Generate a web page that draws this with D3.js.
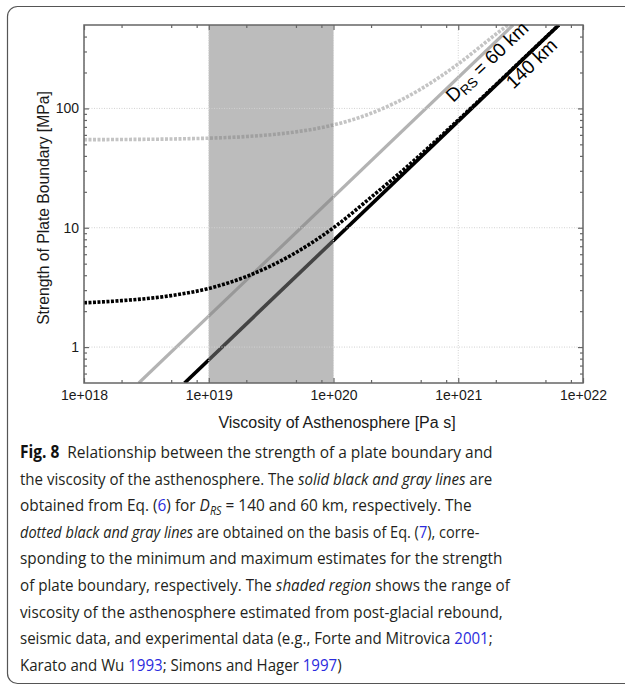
<!DOCTYPE html>
<html>
<head>
<meta charset="utf-8">
<script src="https://cdn.jsdelivr.net/npm/d3@7"></script>
<style>
  html, body { margin: 0; padding: 0; background: #fff; }
  svg { display: block; }
</style>
</head>
<body>
<svg id="canvas"></svg>
<script>
// axis ticks
let xTicks = [1e18, 1e19, 1e20, 1e21, 1e22];
let xTickLabels = ['1e+018', '1e+019', '1e+020', '1e+021', '1e+022'];
let xMinorTicks = [2e18, 5e18, 8e18, 2e19, 5e19, 8e19, 2e20, 5e20, 8e20, 2e21, 5e21, 8e21];
let yTicks = [1, 10, 100];
let yTickLabels = ['1', '10', '100'];
let yMinorTicks = [0.6, 0.7, 0.8, 0.9, 2, 3, 4, 5, 6, 7, 8, 9, 20, 30, 40, 50, 60, 70, 80, 90, 200, 300, 400];

// shaded viscosity range
let shadedRange = [1e19, 1e20];

// solid lines (straight in log-log)
let solid140Viscosity = [6.4e18, 6.4e21];
let solid140Strength = [0.5, 500];
let solid60Viscosity = [2.75e18, 2.75e21];
let solid60Strength = [0.5, 500];

// dotted lines
let dottedBlackViscosity = [1e18, 2e18, 5e18, 1e19, 2e19, 5e19, 1e20, 2e20, 5e20, 1e21, 2e21, 5e21, 6.4e21];
let dottedBlackStrength = [2.35, 2.45, 2.7, 3.1, 3.9, 6.2, 10, 18, 41, 80, 158, 392, 500];
let dottedGrayViscosity = [1e18, 2e18, 5e18, 1e19, 2e19, 5e19, 1e20, 2e20, 5e20, 1e21, 2e21, 2.5e21];
let dottedGrayStrength = [54.7, 54.9, 55.4, 56.3, 58.1, 63.6, 72.7, 91, 145, 236, 418, 500];

// line labels: [viscosity, strength] of baseline start
let label60Pos = [9.1e20, 111];
let label140Pos = [2.77e21, 143];

let captionLines = [
  [['Fig. 8', 'b'], ['  Relationship between the strength of a plate boundary and', '']],
  [['the viscosity of the asthenosphere. The ', ''], ['solid black and gray lines', 'i'], [' are', '']],
  [['obtained from Eq. (', ''], ['6', 'l'], [') for ', ''], ['D', 'i'], ['RS', 'sub'], [' = 140 and 60 km, respectively. The', '']],
  [['dotted black and gray lines', 'i'], [' are obtained on the basis of Eq. (', ''], ['7', 'l'], ['), corre-', '']],
  [['sponding to the minimum and maximum estimates for the strength', '']],
  [['of plate boundary, respectively. The ', ''], ['shaded region', 'i'], [' shows the range of', '']],
  [['viscosity of the asthenosphere estimated from post-glacial rebound,', '']],
  [['seismic data, and experimental data (e.g., Forte and Mitrovica ', ''], ['2001', 'l'], [';', '']],
  [['Karato and Wu ', ''], ['1993', 'l'], ['; Simons and Hager ', ''], ['1997', 'l'], [')', '']]
];
let captionWidths = [473, 473, 452, 460, 483, 490, 483, 473, 322];

let width = 625;
let height = 685;
let plot = { left: 84, right: 583, top: 25, bottom: 383 };
let sans = '"Liberation Sans", Arial, Helvetica, sans-serif';

let canvas = d3.select('#canvas');
canvas.attr('width', width).attr('height', height);

canvas.append('rect').attr('width', width).attr('height', height).attr('fill', '#fff');

// outer frame
canvas.append('rect')
  .attr('x', 7.5).attr('y', 6.5)
  .attr('width', 640).attr('height', 677)
  .attr('rx', 10).attr('ry', 10)
  .attr('fill', 'none').attr('stroke', '#555').attr('stroke-width', 1.2);

let xScale = d3.scaleLog().domain([1e18, 1e22]).range([plot.left, plot.right]);
let yScale = d3.scaleLog().domain([0.5, 500]).range([plot.bottom, plot.top]);

canvas.append('clipPath').attr('id', 'clip')
  .append('rect')
  .attr('x', plot.left).attr('y', plot.top)
  .attr('width', plot.right - plot.left).attr('height', plot.bottom - plot.top);

let plotArea = canvas.append('g').attr('clip-path', 'url(#clip)');

let makeLine = (xs, ys) => d3.line()
  .x(i => xScale(xs[i]))
  .y(i => yScale(ys[i]))
  .curve(d3.curveMonotoneX)(d3.range(xs.length));

// solid lines
plotArea.append('path')
  .attr('d', makeLine(solid60Viscosity, solid60Strength))
  .attr('fill', 'none').attr('stroke', '#b3b3b3').attr('stroke-width', 3.2);
plotArea.append('path')
  .attr('d', makeLine(solid140Viscosity, solid140Strength))
  .attr('fill', 'none').attr('stroke', '#000').attr('stroke-width', 3.6);

// dotted gray (under the shade)
plotArea.append('path')
  .attr('d', makeLine(dottedGrayViscosity, dottedGrayStrength))
  .attr('fill', 'none').attr('stroke', '#c4c4c4').attr('stroke-width', 3.6)
  .attr('stroke-dasharray', '3,1.5');

// shaded region
plotArea.append('rect')
  .attr('x', xScale(shadedRange[0]))
  .attr('y', plot.top)
  .attr('width', xScale(shadedRange[1]) - xScale(shadedRange[0]))
  .attr('height', plot.bottom - plot.top)
  .attr('fill', '#808080').attr('fill-opacity', 0.53);

// grid
let grid = plotArea.append('g').attr('stroke', '#d2d2d2').attr('stroke-width', 1).attr('stroke-dasharray', '1,1.5');
grid.selectAll('.gx').data(xTicks).join('line')
  .attr('x1', d => xScale(d)).attr('x2', d => xScale(d))
  .attr('y1', plot.top).attr('y2', plot.bottom);
grid.selectAll('.gy').data(yTicks).join('line')
  .attr('y1', d => yScale(d)).attr('y2', d => yScale(d))
  .attr('x1', plot.left).attr('x2', plot.right);

// dotted black
plotArea.append('path')
  .attr('d', makeLine(dottedBlackViscosity, dottedBlackStrength))
  .attr('fill', 'none').attr('stroke', '#000').attr('stroke-width', 3.6)
  .attr('stroke-dasharray', '3,1.5');

// axes
let styleAxis = g => {
  g.select('.domain').remove();
  g.selectAll('line').attr('stroke', '#666').attr('stroke-width', 1.2);
  g.selectAll('text').attr('fill', '#1a1a1a').attr('font-family', sans).attr('font-size', 14);
};

let fmtX = d => xTickLabels[xTicks.indexOf(d)];
let fmtY = d => yTickLabels[yTicks.indexOf(d)];

canvas.append('g').attr('transform', `translate(0, ${plot.bottom})`)
  .call(d3.axisBottom(xScale).tickValues(xTicks).tickFormat(fmtX).tickSize(-5).tickPadding(7))
  .call(styleAxis);
canvas.append('g').attr('transform', `translate(0, ${plot.bottom})`)
  .call(d3.axisBottom(xScale).tickValues(xMinorTicks).tickFormat('').tickSize(-3))
  .call(styleAxis);
canvas.append('g').attr('transform', `translate(0, ${plot.top})`)
  .call(d3.axisTop(xScale).tickValues(xTicks).tickFormat('').tickSize(-5))
  .call(styleAxis);
canvas.append('g').attr('transform', `translate(0, ${plot.top})`)
  .call(d3.axisTop(xScale).tickValues(xMinorTicks).tickFormat('').tickSize(-3))
  .call(styleAxis);

canvas.append('g').attr('transform', `translate(${plot.left}, 0)`)
  .call(d3.axisLeft(yScale).tickValues(yTicks).tickFormat(fmtY).tickSize(-5).tickPadding(5))
  .call(styleAxis);
canvas.append('g').attr('transform', `translate(${plot.left}, 0)`)
  .call(d3.axisLeft(yScale).tickValues(yMinorTicks).tickFormat('').tickSize(-3))
  .call(styleAxis);
canvas.append('g').attr('transform', `translate(${plot.right}, 0)`)
  .call(d3.axisRight(yScale).tickValues(yTicks).tickFormat('').tickSize(-5))
  .call(styleAxis);
canvas.append('g').attr('transform', `translate(${plot.right}, 0)`)
  .call(d3.axisRight(yScale).tickValues(yMinorTicks).tickFormat('').tickSize(-3))
  .call(styleAxis);

// plot box
canvas.append('rect')
  .attr('x', plot.left).attr('y', plot.top)
  .attr('width', plot.right - plot.left).attr('height', plot.bottom - plot.top)
  .attr('fill', 'none').attr('stroke', '#666').attr('stroke-width', 1.5);

// axis titles
canvas.append('text')
  .attr('x', 337).attr('y', 428)
  .attr('text-anchor', 'middle')
  .attr('font-family', sans).attr('font-size', 16)
  .attr('fill', '#1a1a1a')
  .text('Viscosity of Asthenosphere [Pa s]');
canvas.append('text')
  .attr('transform', 'translate(48.5, 208) rotate(-90)')
  .attr('text-anchor', 'middle')
  .attr('font-family', sans).attr('font-size', 15.7)
  .attr('fill', '#1a1a1a')
  .text('Strength of Plate Boundary [MPa]');

// line labels, rotated along the lines
let angle = -Math.atan2(yScale(1) - yScale(10), xScale(1e20) - xScale(1e19)) * 180 / Math.PI;

let lab60 = canvas.append('text')
  .attr('transform', `translate(${xScale(label60Pos[0])}, ${yScale(label60Pos[1])}) rotate(${angle})`)
  .attr('font-family', sans).attr('font-size', 19)
  .attr('fill', '#000');
lab60.append('tspan').text('D');
lab60.append('tspan').attr('font-size', 13.5).attr('dy', 3.5).text('RS');
lab60.append('tspan').attr('dy', -3.5).text(' = 60 km');

canvas.append('text')
  .attr('transform', `translate(${xScale(label140Pos[0])}, ${yScale(label140Pos[1])}) rotate(${angle})`)
  .attr('font-family', sans).attr('font-size', 19)
  .attr('fill', '#000')
  .text('140 km');

// caption, each line squeezed horizontally to the reference width
let caption = canvas.append('g')
  .attr('font-family', '"Open Sans", "Noto Sans", sans-serif')
  .attr('font-size', 17)
  .attr('fill', '#231f20');

captionLines.forEach((segments, i) => {
  let y = 458 + i * 26.6;
  let t = caption.append('text')
    .attr('x', 0)
    .attr('y', 0)
    .style('white-space', 'pre');
  let shifted = false;
  segments.forEach(([str, style]) => {
    let s = t.append('tspan').text(str);
    if (shifted && style !== 'sub') { s.attr('dy', -4); shifted = false; }
    if (style === 'b') s.attr('font-weight', 700).attr('fill', '#111');
    if (style === 'i') s.attr('font-style', 'italic');
    if (style === 'l') s.attr('fill', '#2b2bdd');
    if (style === 'sub') { s.attr('font-style', 'italic').attr('font-size', 12).attr('dy', 4); shifted = true; }
  });
  let w = t.node().getComputedTextLength();
  let sx = w > 0 ? captionWidths[i] / w : 1;
  t.attr('transform', `translate(20, ${y}) scale(${sx}, 1)`);
});
</script>
</body>
</html>
